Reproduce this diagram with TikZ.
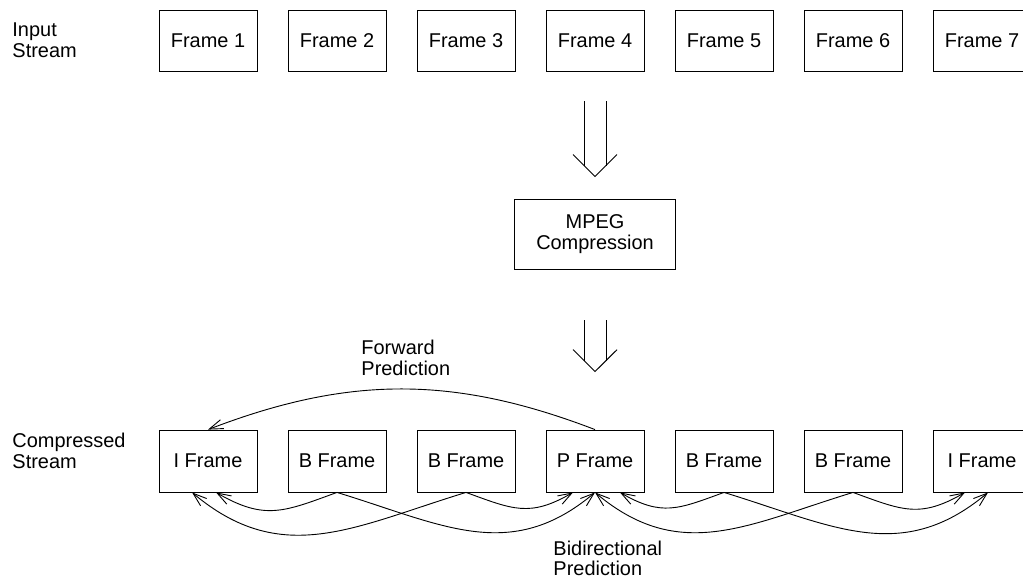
\documentclass[tikz,border=0pt]{standalone}
\usepackage{fontspec}
\setmainfont{Liberation Sans}
\usetikzlibrary{arrows.meta}
\begin{document}
\begin{tikzpicture}[line width=0.6pt,>={Straight Barb[length=0.32cm,width=0.22cm]}]
\useasboundingbox (0,0) rectangle (23.79,13.465);

\begin{scope}[every node/.style={rectangle,draw,minimum width=2.28cm,minimum height=1.44cm,font=\fontsize{13.2pt}{14pt}\selectfont}]
\node (f1) at (4.837,12.512) {Frame 1};
\node (f2) at (7.837,12.512) {Frame 2};
\node (f3) at (10.837,12.512) {Frame 3};
\node (f4) at (13.837,12.512) {Frame 4};
\node (f5) at (16.837,12.512) {Frame 5};
\node (f6) at (19.837,12.512) {Frame 6};
\node (f7) at (22.837,12.512) {Frame 7};
\node (mpeg) at (13.837,8.012) [minimum width=3.74cm,minimum height=1.65cm,align=center] {MPEG\\Compression};
\node (i1) at (4.837,2.744) {I Frame};
\node (b2) at (7.837,2.744) {B Frame};
\node (b3) at (10.837,2.744) {B Frame};
\node (p4) at (13.837,2.744) {P Frame};
\node (b5) at (16.837,2.744) {B Frame};
\node (b6) at (19.837,2.744) {B Frame};
\node (i7) at (22.837,2.744) {I Frame};
\end{scope}

\begin{scope}[every node/.style={anchor=west,align=left,inner sep=0pt,font=\fontsize{13.2pt}{13.8pt}\selectfont}]
\node (instream) at (0.279,12.535) {Input\\Stream};
\node (cstream) at (0.279,2.977) {Compressed\\Stream};
\node (fwd) at (8.395,5.151) {Forward\\Prediction};
\node (bidir) at (12.86,0.48) {Bidirectional\\Prediction};
\end{scope}

% big arrows
\draw ([xshift=-0.256cm,yshift=-0.667cm]f4.south) -- ([xshift=-0.256cm,yshift=0.767cm]mpeg.north);
\draw ([xshift=0.256cm,yshift=-0.667cm]f4.south) -- ([xshift=0.256cm,yshift=0.767cm]mpeg.north);
\draw ([xshift=-0.512cm,yshift=1.023cm]mpeg.north) -- ([yshift=0.512cm]mpeg.north) -- ([xshift=0.512cm,yshift=1.023cm]mpeg.north);
\draw ([xshift=-0.256cm,yshift=-1.163cm]mpeg.south) -- ([xshift=-0.256cm,yshift=1.605cm]p4.north);
\draw ([xshift=0.256cm,yshift=-1.163cm]mpeg.south) -- ([xshift=0.256cm,yshift=1.605cm]p4.north);
\draw ([xshift=-0.512cm,yshift=1.86cm]p4.north) -- ([yshift=1.349cm]p4.north) -- ([xshift=0.512cm,yshift=1.86cm]p4.north);

\begin{scope}[every edge/.style={draw}]
    \path [->] (p4.north) edge[bend right=21] (i1.north);
    \path [->] (b2.south) edge[out=200,in=-30,looseness=1.2] ([xshift=0.186cm]i1.south);
    \path [->] (b3.south) edge[out=197,in=-40,looseness=1.1] ([xshift=-0.372cm]i1.south);
    \path [->] (b2.south) edge[out=-17,in=-140,looseness=1.1] (p4.south);
    \path [->] (b3.south) edge[out=-20,in=-150,looseness=1.2] ([xshift=-0.512cm]p4.south);
    \path [->] (b5.south) edge[out=200,in=-30,looseness=1.2] ([xshift=0.58cm]p4.south);
    \path [->] (b6.south) edge[out=197,in=-40,looseness=1.1] (p4.south);
    \path [->] (b5.south) edge[out=-17,in=-140,looseness=1.1] ([xshift=0.14cm]i7.south);
    \path [->] (b6.south) edge[out=-20,in=-150,looseness=1.2] ([xshift=-0.395cm]i7.south);
\end{scope}
\end{tikzpicture}
\end{document}
